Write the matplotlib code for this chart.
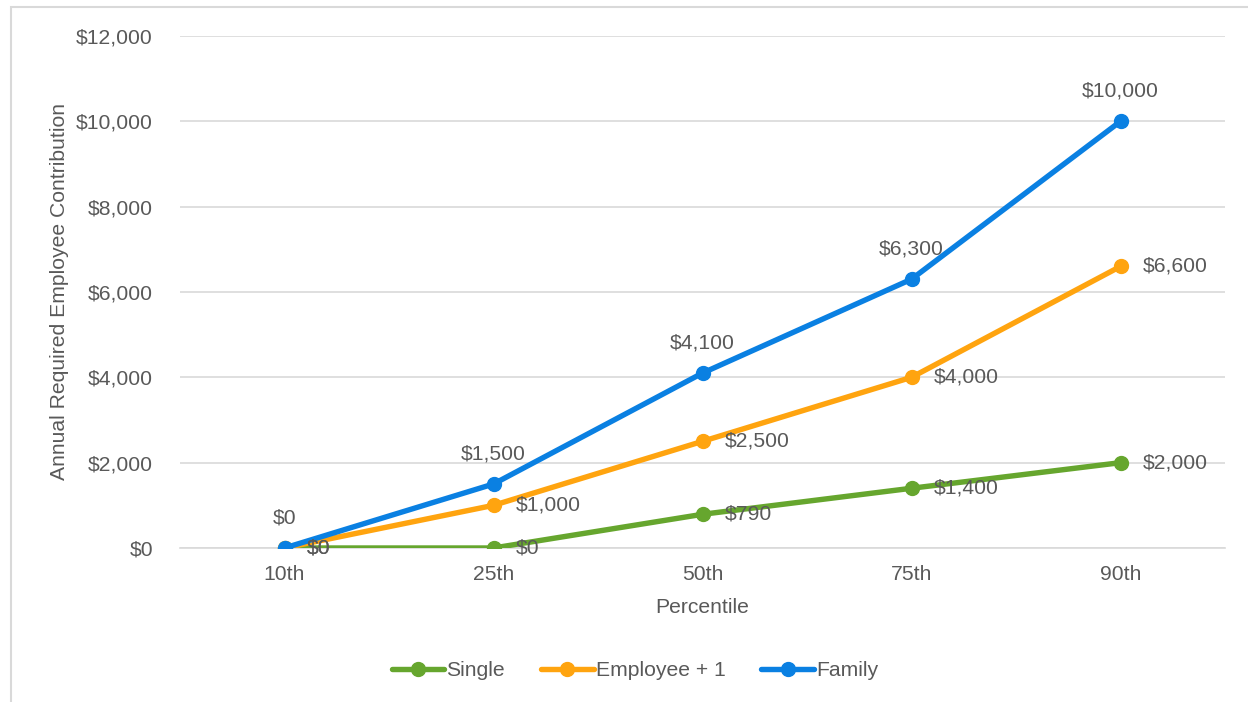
import matplotlib
matplotlib.use("Agg")
from matplotlib import pyplot as plt
from matplotlib.patches import Rectangle

percentiles = ["10th", "25th", "50th", "75th", "90th"]
single = [0, 0, 790, 1400, 2000]
employee_plus_one = [0, 1000, 2500, 4000, 6600]
family = [0, 1500, 4100, 6300, 10000]

GREEN = "#66A62E"
ORANGE = "#FFA40F"
BLUE = "#0A80E2"
TEXT = "#595959"
GRID = "#D9D9D9"
FS = 15.2

plt.rcParams["font.family"] = ["Liberation Sans", "DejaVu Sans"]

fig = plt.figure(figsize=(12.48, 7.02), dpi=100)
# outer chart border (runs off the right and bottom edges)
fig.patches.append(Rectangle((11 / 1248, -0.1), 1.2, 1.1 - 7 / 702, transform=fig.transFigure,
                             fill=False, edgecolor=GRID, linewidth=1.5))

ax = fig.add_axes([180 / 1248, 1 - 548 / 702, 1045 / 1248, 512 / 702])
x = list(range(len(percentiles)))


def money(v):
    return f"${v:,.0f}"


series = [("Single", single, GREEN), ("Employee + 1", employee_plus_one, ORANGE), ("Family", family, BLUE)]
for name, vals, col in series:
    ax.plot(x, vals, color=col, linewidth=3.9, marker="o", markersize=10, label=name,
            solid_capstyle="round", zorder=3)

# data labels: single / employee to the right, family above
for xi, v in zip(x, single):
    ax.annotate(money(v), (xi, v), xytext=(22, 0), textcoords="offset pixels",
                ha="left", va="center", fontsize=FS, color=TEXT, zorder=4)
for xi, v in zip(x, employee_plus_one):
    ax.annotate(money(v), (xi, v), xytext=(22, 0), textcoords="offset pixels",
                ha="left", va="center", fontsize=FS, color=TEXT, zorder=4)
for xi, v in zip(x, family):
    ax.annotate(money(v), (xi, v), xytext=(0, 30), textcoords="offset pixels",
                ha="center", va="center", fontsize=FS, color=TEXT, zorder=4)

ax.set_xlim(-0.5, len(percentiles) - 0.5)
ax.set_ylim(0, 12000)
ax.set_yticks(range(0, 12001, 2000))
ax.set_yticklabels([money(t) for t in range(0, 12001, 2000)])
ax.set_xticks(x)
ax.set_xticklabels(percentiles)
ax.tick_params(axis="both", length=0, labelsize=FS, colors=TEXT)
ax.tick_params(axis="y", pad=19.5)
ax.tick_params(axis="x", pad=12)
ax.grid(axis="y", color=GRID, linewidth=1.2)
ax.set_axisbelow(True)
for s in ["top", "right", "left"]:
    ax.spines[s].set_visible(False)
ax.spines["bottom"].set_color(GRID)
ax.spines["bottom"].set_linewidth(1.2)

ax.set_xlabel("Percentile", fontsize=FS, color=TEXT, labelpad=10)
ax.set_ylabel("Annual Required Employee Contribution", fontsize=FS, color=TEXT, labelpad=5)

fig.legend(loc="center", bbox_to_anchor=(635 / 1248, 1 - 671 / 702), ncol=3, frameon=False,
           fontsize=FS, labelcolor=TEXT, handlelength=2.5, handletextpad=0.1, columnspacing=1.7)

fig.savefig("out.png", dpi=100)
